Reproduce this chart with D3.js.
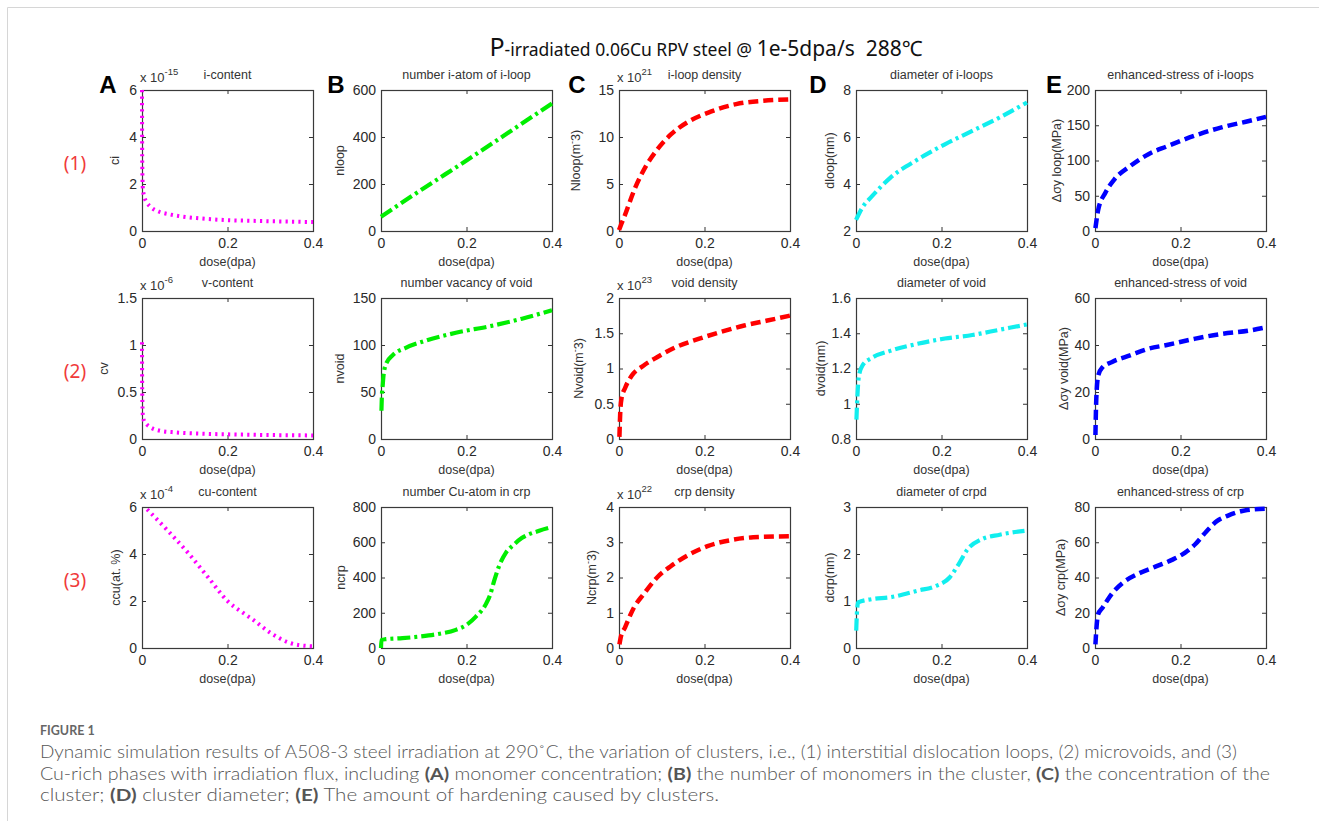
<!DOCTYPE html>
<html><head><meta charset="utf-8">
<script src="https://cdn.jsdelivr.net/npm/d3@7"></script>
<style>body{margin:0;background:#fff}svg{display:block}</style>
</head><body>
<svg id="c" width="1319" height="821"></svg>
<script>
// ---------------- data ----------------
const doseDomain = [0, 0.4];
const doseTicks = [0, 0.2, 0.4];

// row (1) interstitial loops
const ciDose = [0, 0.0005, 0.002, 0.006, 0.012, 0.022, 0.04, 0.064, 0.096, 0.134, 0.19, 0.266, 0.344, 0.4];
const ciVal  = [6.0, 3.0, 1.8, 1.42, 1.2, 1.0, 0.82, 0.71, 0.61, 0.54, 0.47, 0.43, 0.40, 0.38];
const nloopDose = [0, 0.1, 0.2, 0.3, 0.4];
const nloopVal  = [61, 182, 300, 421, 543];
const NloopDose = [0, 0.003, 0.014, 0.036, 0.063, 0.09, 0.122, 0.165, 0.209, 0.274, 0.338, 0.398];
const NloopVal  = [0.1, 0.46, 1.7, 4.4, 6.9, 8.7, 10.3, 11.7, 12.6, 13.5, 13.86, 14.0];
const dloopDose = [0, 0.015, 0.037, 0.08, 0.144, 0.208, 0.272, 0.336, 0.4];
const dloopVal  = [2.47, 3.0, 3.47, 4.26, 5.04, 5.69, 6.26, 6.83, 7.47];
const sigLoopDose = [0.001, 0.0075, 0.024, 0.045, 0.082, 0.125, 0.168, 0.232, 0.296, 0.36, 0.4];
const sigLoopVal  = [4, 30, 54, 73, 92, 109, 120, 135, 147, 156, 162];

// row (2) microvoids
const cvDose = [0, 0.0005, 0.002, 0.005, 0.01, 0.018, 0.04, 0.08, 0.15, 0.23, 0.4];
const cvVal  = [1.03, 0.5, 0.25, 0.19, 0.16, 0.13, 0.09, 0.07, 0.055, 0.047, 0.038];
const nvoidDose = [0.001, 0.002, 0.004, 0.006, 0.012, 0.027, 0.058, 0.1, 0.175, 0.255, 0.33, 0.4];
const nvoidVal  = [30, 45, 57, 68, 80, 89, 97, 104, 113, 120, 128, 137];
const NvoidDose = [0.001, 0.003, 0.006, 0.014, 0.03, 0.057, 0.089, 0.132, 0.186, 0.239, 0.293, 0.347, 0.4];
const NvoidVal  = [0.03, 0.39, 0.58, 0.72, 0.9, 1.04, 1.16, 1.30, 1.42, 1.52, 1.61, 1.68, 1.75];
const dvoidDose = [0.001, 0.003, 0.007, 0.016, 0.037, 0.08, 0.144, 0.208, 0.272, 0.336, 0.4];
const dvoidVal  = [0.91, 1.03, 1.16, 1.22, 1.26, 1.30, 1.34, 1.37, 1.39, 1.42, 1.45];
const sigVoidDose = [0.001, 0.003, 0.0075, 0.018, 0.04, 0.082, 0.125, 0.168, 0.232, 0.296, 0.36, 0.4];
const sigVoidVal  = [1.7, 17, 27, 30.6, 32.8, 35.6, 38.4, 40, 42.6, 44.7, 46.1, 47.5];

// row (3) Cu-rich phases
const ccuDose = [0.012, 0.06, 0.11, 0.155, 0.2, 0.24, 0.26, 0.3, 0.345, 0.39, 0.4];
const ccuVal  = [5.9, 5.0, 4.0, 3.0, 2.0, 1.45, 1.2, 0.65, 0.22, 0.08, 0.07];
const ncrpDose = [0, 0.001, 0.01, 0.05, 0.09, 0.13, 0.175, 0.2, 0.222, 0.246, 0.255, 0.265, 0.277, 0.292, 0.31, 0.33, 0.37, 0.4];
const ncrpVal  = [0, 45, 50, 56, 65, 78, 103, 131, 178, 252, 300, 383, 470, 540, 585, 625, 665, 686];
const NcrpDose = [0.001, 0.004, 0.014, 0.035, 0.057, 0.089, 0.121, 0.164, 0.207, 0.261, 0.314, 0.4];
const NcrpVal  = [0.1, 0.3, 0.58, 1.15, 1.52, 2.0, 2.32, 2.65, 2.89, 3.06, 3.14, 3.17];
const dcrpDose = [0.0005, 0.002, 0.005, 0.037, 0.08, 0.144, 0.187, 0.219, 0.24, 0.261, 0.293, 0.336, 0.4];
const dcrpVal  = [0.37, 0.72, 0.97, 1.04, 1.08, 1.22, 1.32, 1.5, 1.78, 2.1, 2.31, 2.41, 2.5];
const sigCrpDose = [0.001, 0.003, 0.007, 0.018, 0.04, 0.065, 0.1, 0.14, 0.18, 0.21, 0.235, 0.26, 0.285, 0.31, 0.35, 0.4];
const sigCrpVal  = [2, 10, 19, 23, 31, 37, 42, 46, 50, 54, 59, 66, 72, 75, 78, 79];

// axes
const rowTitles = [
  ["i-content", "number i-atom of i-loop", "i-loop density", "diameter of i-loops", "enhanced-stress of i-loops"],
  ["v-content", "number vacancy of void", "void density", "diameter of void", "enhanced-stress of void"],
  ["cu-content", "number Cu-atom in crp", "crp density", "diameter of crpd", "enhanced-stress of crp"]
];
const yLabels = [
  [["ci"], ["nloop"], ["Nloop(m", "-", "3)"], ["dloop(nm)"], ["Δσy loop(MPa)"]],
  [["cv"], ["nvoid"], ["Nvoid(m", "-", "3)"], ["dvoid(nm)"], ["Δσy void(MPa)"]],
  [["ccu(at. %)"], ["ncrp"], ["Ncrp(m", "-", "3)"], ["dcrp(nm)"], ["Δσy crp(MPa)"]]
];
const yDomains = [
  [[0, 6], [0, 600], [0, 15], [2, 8], [0, 200]],
  [[0, 1.5], [0, 150], [0, 2], [0.8, 1.6], [0, 60]],
  [[0, 6], [0, 800], [0, 4], [0, 3], [0, 80]]
];
const yTickVals = [
  [[0, 2, 4, 6], [0, 200, 400, 600], [0, 5, 10, 15], [2, 4, 6, 8], [0, 50, 100, 150, 200]],
  [[0, 0.5, 1, 1.5], [0, 50, 100, 150], [0, 0.5, 1, 1.5, 2], [0.8, 1, 1.2, 1.4, 1.6], [0, 20, 40, 60]],
  [[0, 2, 4, 6], [0, 200, 400, 600, 800], [0, 1, 2, 3, 4], [0, 1, 2, 3], [0, 20, 40, 60, 80]]
];
const yExponents = [
  ["-15", null, "21", null, null],
  ["-6", null, "23", null, null],
  ["-4", null, "22", null, null]
];
const seriesDose = [
  [ciDose, nloopDose, NloopDose, dloopDose, sigLoopDose],
  [cvDose, nvoidDose, NvoidDose, dvoidDose, sigVoidDose],
  [ccuDose, ncrpDose, NcrpDose, dcrpDose, sigCrpDose]
];
const seriesVal = [
  [ciVal, nloopVal, NloopVal, dloopVal, sigLoopVal],
  [cvVal, nvoidVal, NvoidVal, dvoidVal, sigVoidVal],
  [ccuVal, ncrpVal, NcrpVal, dcrpVal, sigCrpVal]
];
const panelLetters = ["A", "B", "C", "D", "E"];
const rowNames = ["(1)", "(2)", "(3)"];

// ---------------- layout & style ----------------
const W = 171, H = 141;
const colLeft = [142, 381, 619, 856, 1095];
const rowTop = [90, 298, 507];
const yLabelOffset = [
  [27, 41, 43, 26, 38],
  [38, 41, 40, 35, 31],
  [26, 40, 27, 26, 34]
];
const letterX = [108, 336, 577, 818, 1054];
const colStyle = [
  {color: "#ff00ff", dash: "2.2,4.2", width: 4},
  {color: "#00ee00", dash: "13,4,3,4", width: 4.2},
  {color: "#ff0000", dash: "10,5", width: 4.5},
  {color: "#11eeee", dash: "12,4,3,4", width: 4.2},
  {color: "#0000ff", dash: "10,5", width: 4.5}
];
const AX_FONT = "'Liberation Sans', Arial, sans-serif";

const svg = d3.select("#c");
svg.append("rect").attr("width", 1319).attr("height", 821).attr("fill", "#fff");
svg.append("path").attr("d", "M7.5,821V7.5H1319").attr("fill", "none").attr("stroke", "#d6d6d6");

// main title
const title = svg.append("text").attr("x", 706).attr("y", 56).attr("text-anchor", "middle")
  .attr("font-family", "'Noto Sans','Open Sans',sans-serif").attr("fill", "#111")
  .style("white-space", "pre");
title.append("tspan").attr("font-size", 25).text("P");
title.append("tspan").attr("font-size", 17.5).text("-irradiated 0.06Cu RPV steel @ ");
title.append("tspan").attr("font-size", 21).text("1e-5dpa/s  288℃");

const fmt = d3.format("~g");

for (let r = 0; r < 3; r++) {
  for (let c = 0; c < 5; c++) {
    const x0 = colLeft[c], y0 = rowTop[r];
    const g = svg.append("g");
    const xs = d3.scaleLinear().domain(doseDomain).range([x0, x0 + W]);
    const ys = d3.scaleLinear().domain(yDomains[r][c]).range([y0 + H, y0]);

    g.append("g").attr("transform", `translate(0,${y0 + H})`)
      .call(d3.axisBottom(xs).tickValues(doseTicks).tickSize(-4).tickSizeOuter(0).tickPadding(7).tickFormat(fmt));
    g.append("g").attr("transform", `translate(0,${y0})`)
      .call(d3.axisTop(xs).tickValues(doseTicks).tickSize(-4).tickSizeOuter(0).tickFormat(""));
    g.append("g").attr("transform", `translate(${x0},0)`)
      .call(d3.axisLeft(ys).tickValues(yTickVals[r][c]).tickSize(-4).tickSizeOuter(0).tickPadding(5).tickFormat(fmt));
    g.append("g").attr("transform", `translate(${x0 + W},0)`)
      .call(d3.axisRight(ys).tickValues(yTickVals[r][c]).tickSize(-4).tickSizeOuter(0).tickFormat(""));
    g.selectAll(".domain").remove();
    g.selectAll(".tick line").attr("stroke", "#333");
    g.selectAll(".tick text").attr("font-size", 14).attr("font-family", AX_FONT).attr("fill", "#2a2a2a");

    g.append("rect").attr("x", x0 + 0.5).attr("y", y0 + 0.5).attr("width", W).attr("height", H)
      .attr("fill", "none").attr("stroke", "#3a3a3a").attr("stroke-width", 1.2);

    // curve
    const dose = seriesDose[r][c];
    const line = d3.line().x((d, i) => xs(dose[i])).y(d => ys(d)).curve(d3.curveMonotoneX);
    const st = colStyle[c];
    g.append("path").datum(seriesVal[r][c]).attr("d", line)
      .attr("fill", "none").attr("stroke", st.color).attr("stroke-width", st.width)
      .attr("stroke-dasharray", st.dash);

    // title
    g.append("text").attr("x", x0 + W / 2).attr("y", y0 - 11).attr("text-anchor", "middle")
      .attr("font-family", AX_FONT).attr("font-size", 12.5).attr("fill", "#333").text(rowTitles[r][c]);

    // exponent
    if (yExponents[r][c]) {
      const t = g.append("text").attr("x", x0 - 2).attr("y", y0 - 8)
        .attr("font-family", AX_FONT).attr("font-size", 13).attr("fill", "#333");
      t.append("tspan").text("x 10");
      t.append("tspan").attr("dy", -7).attr("font-size", 9.5).text(yExponents[r][c]);
    }

    // x label
    g.append("text").attr("x", x0 + W / 2).attr("y", y0 + H + 35).attr("text-anchor", "middle")
      .attr("font-family", AX_FONT).attr("font-size", 12.5).attr("fill", "#333").text("dose(dpa)");

    // y label
    const yl = g.append("text")
      .attr("transform", `translate(${x0 - yLabelOffset[r][c]},${y0 + H / 2}) rotate(-90)`)
      .attr("text-anchor", "middle").attr("dy", "0.35em")
      .attr("font-family", AX_FONT).attr("font-size", 12.5).attr("fill", "#333");
    const parts = yLabels[r][c];
    yl.append("tspan").text(parts[0]);
    if (parts.length > 1) {
      yl.append("tspan").attr("dy", -5).attr("font-size", 9).text(parts[1]);
      yl.append("tspan").attr("dy", 5).text(parts[2]);
    }

    if (r === 0) {
      svg.append("text").attr("x", letterX[c]).attr("y", 93).attr("text-anchor", "middle")
        .attr("font-family", AX_FONT).attr("font-weight", "bold").attr("font-size", 24)
        .attr("fill", "#000").text(panelLetters[c]);
    }
  }
  svg.append("text").attr("x", 75).attr("y", rowTop[r] + 80).attr("text-anchor", "middle")
    .attr("font-family", "'Noto Sans','Open Sans',sans-serif").attr("font-size", 19)
    .attr("fill", "#f03a3a").text(rowNames[r]);
}

// caption
const CAP_FONT = "Lato,'Open Sans',sans-serif";
svg.append("text").attr("x", 40).attr("y", 735).attr("font-family", CAP_FONT)
  .attr("font-size", 12.5).attr("font-weight", 700).attr("fill", "#666").text("FIGURE 1");
const capLines = [
  {len: 1197, parts: [["Dynamic simulation results of A508-3 steel irradiation at 290˚C, the variation of clusters, i.e., (1) interstitial dislocation loops, (2) microvoids, and (3)", 0]]},
  {len: 1230, parts: [["Cu-rich phases with irradiation flux, including ", 0], ["(A)", 1], [" monomer concentration; ", 0], ["(B)", 1], [" the number of monomers in the cluster, ", 0], ["(C)", 1], [" the concentration of the", 0]]},
  {len: 679, parts: [["cluster; ", 0], ["(D)", 1], [" cluster diameter; ", 0], ["(E)", 1], [" The amount of hardening caused by clusters.", 0]]}
];
capLines.forEach((ln, i) => {
  const t = svg.append("text").attr("x", 40).attr("y", 758 + i * 21.5)
    .attr("font-family", CAP_FONT).attr("font-size", 17).attr("font-weight", 300).attr("fill", "#555")
    .attr("textLength", ln.len).attr("lengthAdjust", "spacingAndGlyphs")
    .style("white-space", "pre");
  ln.parts.forEach(p => t.append("tspan").attr("font-weight", p[1] ? "bold" : 300).text(p[0]));
});
</script>
</body></html>
